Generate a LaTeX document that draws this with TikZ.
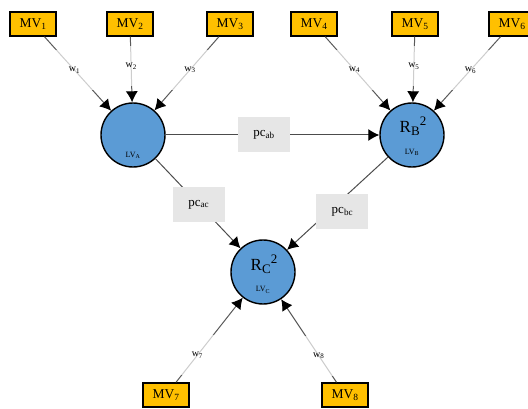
\documentclass[tikz,border=0pt]{standalone}
\usepackage{fontspec}
\setmainfont{Liberation Serif}
\usetikzlibrary{arrows.meta}
\definecolor{lvblue}{HTML}{5B9BD5}
\definecolor{mvgold}{HTML}{FFC000}
\definecolor{pcgray}{HTML}{E6E6E6}
\tikzset{
  lv/.style={circle, draw=black, line width=1.4pt, fill=lvblue, minimum size=64pt, inner sep=0pt},
  mv/.style={rectangle, draw=black, line width=1.4pt, fill=mvgold, minimum width=46pt, minimum height=24pt, inner sep=1pt, font=\fontsize{13.5}{13.5}\selectfont},
  wlab/.style={fill=white, fill opacity=0.7, text opacity=1, minimum width=48pt, minimum height=40pt, font=\fontsize{10}{10}\selectfont},
  pclab/.style={fill=pcgray, minimum width=52pt, minimum height=35pt, inner sep=0pt, font=\fontsize{13}{13}\selectfont},
  load/.style={draw=black!65, line width=1pt, -{Latex[length=11pt,width=12pt,color=black]}},
  path/.style={draw=black!70, line width=1pt, -{Latex[length=11pt,width=12pt,color=black]}},
  big/.style={inner sep=0pt, font=\fontsize{17}{17}\selectfont},
  small/.style={inner sep=0pt, font=\fontsize{8}{8}\selectfont}
}
% R with subscript and a following superscript 2
\newcommand{\rsq}[1]{R{\fontsize{13}{13}\selectfont\raisebox{-3pt}{#1}\raisebox{7pt}{2}}}
\begin{document}
\begin{tikzpicture}[x=1pt,y=-1pt]
\useasboundingbox (0,0) rectangle (528,409);

% latent variables
\node[lv] (A) at (133,135) {};
\node[lv] (B) at (412,135) {};
\node[lv] (C) at (263,272) {};
\node[small] (Atxt) at (133,155) {LV\textsubscript{A}};
\node[big] (Btxt) at (413,126) {\rsq{B}};
\node[small] (Bsub) at (412,152) {LV\textsubscript{B}};
\node[big] (Ctxt) at (264,264) {\rsq{C}};
\node[small] (Csub) at (263,290) {LV\textsubscript{C}};

% manifest variables
\node[mv] (m1) at (33,24) {MV\textsubscript{1}};
\node[mv] (m2) at (130,24) {MV\textsubscript{2}};
\node[mv] (m3) at (230,24) {MV\textsubscript{3}};
\node[mv] (m4) at (314,24) {MV\textsubscript{4}};
\node[mv] (m5) at (415,24) {MV\textsubscript{5}};
\node[mv] (m6) at (512,24) {MV\textsubscript{6}};
\node[mv] (m7) at (166,395) {MV\textsubscript{7}};
\node[mv] (m8) at (345,395) {MV\textsubscript{8}};

% outer weights
\draw[load] (m1) -- (A) node[pos=0.45, wlab] (w1) {w\textsubscript{1}};
\draw[load] (m2) -- (A) node[pos=0.45, wlab] (w2) {w\textsubscript{2}};
\draw[load] (m3) -- (A) node[pos=0.45, wlab] (w3) {w\textsubscript{3}};
\draw[load] (m4) -- (B) node[pos=0.45, wlab] (w4) {w\textsubscript{4}};
\draw[load] (m5) -- (B) node[pos=0.45, wlab] (w5) {w\textsubscript{5}};
\draw[load] (m6) -- (B) node[pos=0.45, wlab] (w6) {w\textsubscript{6}};
\draw[load] (m7) -- (C) node[pos=0.32, wlab] (w7) {w\textsubscript{7}};
\draw[load] (m8) -- (C) node[pos=0.32, wlab] (w8) {w\textsubscript{8}};

% inner path coefficients
\draw[path] (A) -- (B) node[pos=0.46, pclab] (pab) {pc\textsubscript{ab}};
\draw[path] (A) -- (C) node[pos=0.51, pclab] (pac) {pc\textsubscript{ac}};
\draw[path] (B) -- (C) node[pos=0.59, pclab, xshift=14pt] (pbc) {pc\textsubscript{bc}};
\end{tikzpicture}
\end{document}
